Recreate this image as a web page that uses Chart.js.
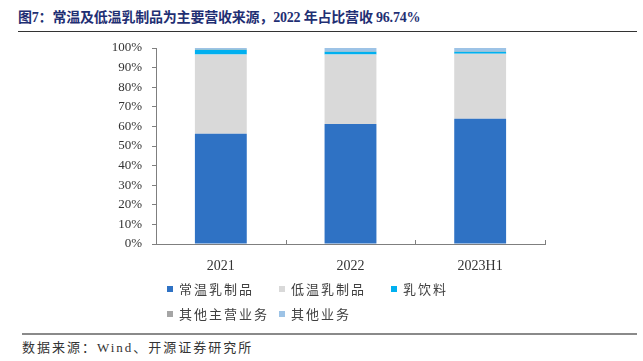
<!DOCTYPE html>
<html>
<head>
<meta charset="utf-8">
<script src="https://cdn.jsdelivr.net/npm/chart.js@4"></script>
<style>
  html, body { margin: 0; padding: 0; background: #fff; }
  body { width: 643px; height: 361px; position: relative; overflow: hidden;
         font-family: "Liberation Serif", "Noto Sans CJK SC", serif; }
  #title { position: absolute; left: 18px; top: 6px; font-size: 14px; font-weight: bold;
           color: #1f2f73; white-space: nowrap; letter-spacing: -0.2px; }
  #titleLine { position: absolute; left: 18px; top: 31px; width: 619px; height: 1px; background: #333; }
  #wrap { position: absolute; left: 0; top: 0; width: 643px; height: 280px; }
  #legend { position: absolute; left: 167px; top: 279px; width: 340px; }
  .item { position: absolute; display: flex; align-items: center; font-size: 13px;
          color: #404040; letter-spacing: 2px; white-space: nowrap;
          font-family: "Noto Sans CJK SC", serif; }
  .item span.box { width: 6px; height: 6px; margin-right: 6px; display: inline-block; }
  #footLine { position: absolute; left: 22px; top: 333px; width: 615px; height: 2px; background: #8a8a8a; }
  #source { position: absolute; left: 22px; top: 337px; font-size: 13px; color: #333;
            white-space: nowrap; letter-spacing: 2px; }
</style>
</head>
<body>
<div id="title">图7：常温及低温乳制品为主要营收来源，2022 年占比营收 96.74%</div>
<div id="titleLine"></div>
<div id="wrap"><canvas id="myChart" width="643" height="280"></canvas></div>
<div id="legend"></div>
<div id="footLine"></div>
<div id="source">数据来源：Wind、开源证券研究所</div>
<script>
// ===============================
// Datos (% de ingresos)
// ===============================
const periodos = ['2021', '2022', '2023H1'];
const changWen = [56.2, 61.2, 63.9];      // 常温乳制品
const diWen = [40.5, 35.54, 33.2];        // 低温乳制品
const ruYinLiao = [2.4, 1.3, 1.0];        // 乳饮料
const qiTaZhuYing = [0.3, 0.3, 0.2];      // 其他主营业务
const qiTaYeWu = [0.6, 1.66, 1.7];        // 其他业务
const yTicks = [0, 10, 20, 30, 40, 50, 60, 70, 80, 90, 100];

const series = [
    { label: '常温乳制品', data: changWen, color: '#2f72c4' },
    { label: '低温乳制品', data: diWen, color: '#d9d9d9' },
    { label: '乳饮料', data: ruYinLiao, color: '#00b0f0' },
    { label: '其他主营业务', data: qiTaZhuYing, color: '#a5a5a5' },
    { label: '其他业务', data: qiTaYeWu, color: '#9dc3e6' }
];

// ===============================
// Leyenda HTML
// ===============================
const legendPos = [[0, 0], [112, 0], [224, 0], [0, 25], [112, 25]];
const legend = document.getElementById('legend');
series.forEach((s, i) => {
    const el = document.createElement('div');
    el.className = 'item';
    el.style.left = legendPos[i][0] + 'px';
    el.style.top = legendPos[i][1] + 'px';
    el.innerHTML = `<span class="box" style="background:${s.color}"></span>${s.label}`;
    legend.appendChild(el);
});

// marcas pequeñas del eje x entre categorías
const xTickMarks = {
    id: 'xTickMarks',
    afterDraw(chart) {
        const x = chart.scales.x;
        const ctx = chart.ctx;
        ctx.save();
        ctx.strokeStyle = '#7f7f7f';
        ctx.lineWidth = 1;
        for (let i = 0; i <= periodos.length; i++) {
            const px = Math.round(x.getPixelForValue(i - 0.5)) + 0.5;
            ctx.beginPath();
            ctx.moveTo(px, x.top);
            ctx.lineTo(px, x.top - 4);
            ctx.stroke();
        }
        ctx.restore();
    }
};

// ===============================
// Gráfica
// ===============================
const ctx = document.getElementById('myChart').getContext('2d');
new Chart(ctx, {
    type: 'bar',
    data: {
        labels: periodos,
        datasets: series.map(s => ({
            label: s.label,
            data: s.data,
            backgroundColor: s.color,
            borderWidth: 0,
            barPercentage: 0.4,
            categoryPercentage: 1
        }))
    },
    options: {
        responsive: false,
        animation: false,
        devicePixelRatio: 1,
        layout: { padding: { left: 0, right: 98, top: 48, bottom: 0 } },
        plugins: {
            legend: { display: false },
            tooltip: { enabled: false }
        },
        scales: {
            x: {
                stacked: true,
                grid: { display: false },
                border: { display: true, color: '#7f7f7f', width: 1 },
                ticks: {
                    color: '#333',
                    font: { family: 'Liberation Serif', size: 14 },
                    padding: 6,
                    maxRotation: 0,
                    autoSkip: false
                },
                afterFit: (scale) => { scale.height = 36; }
            },
            y: {
                stacked: true,
                min: 0,
                max: 100,
                grid: { drawOnChartArea: false, drawTicks: true, tickLength: 4, color: '#7f7f7f' },
                border: { display: true, color: '#7f7f7f', width: 1 },
                afterBuildTicks: (scale) => { scale.ticks = yTicks.map(v => ({ value: v })); },
                ticks: {
                    color: '#333',
                    font: { family: 'Liberation Serif', size: 13 },
                    padding: 10,
                    callback: (v) => v + '%'
                },
                afterFit: (scale) => { scale.width = 156; }
            }
        }
    },
    plugins: [xTickMarks]
});
</script>
</body>
</html>
